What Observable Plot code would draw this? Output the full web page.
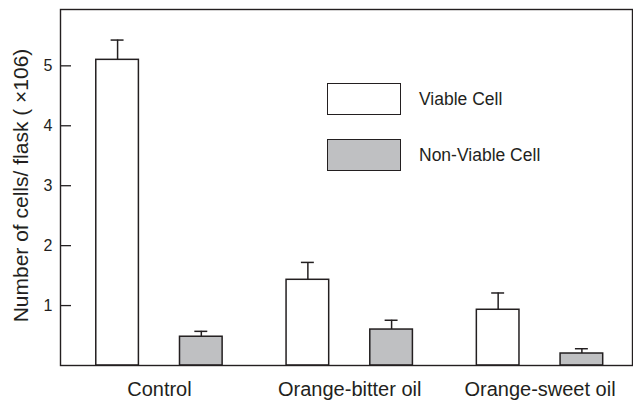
<!DOCTYPE html>
<html>
<head>
<meta charset="utf-8">
<script src="https://cdn.jsdelivr.net/npm/d3@7"></script>
<script src="https://cdn.jsdelivr.net/npm/@observablehq/plot@0.6"></script>
<style>
  body { margin: 0; background: #fff; }
  #wrap { position: relative; width: 633px; height: 400px; font-family: "Liberation Sans", Arial, sans-serif; color: #231f20; }
  .lg-box { position: absolute; width: 72px; height: 30px; border: 1.5px solid #231f20; }
  .lg-text { position: absolute; font-size: 17.5px; line-height: 20px; }
</style>
</head>
<body>
<div id="wrap"></div>
<script>
const categories = ["Control", "Orange-bitter oil", "Orange-sweet oil"];
const series = ["Viable Cell", "Non-Viable Cell"];
const viable = [5.1, 1.43, 0.93];
const viableErr = [0.33, 0.29, 0.28];
const nonViable = [0.48, 0.6, 0.2];
const nonViableErr = [0.09, 0.155, 0.08];
const yTicks = [1, 2, 3, 4, 5];
const yLabel = "Number of cells/ flask ( ×106)";

const colors = {"Viable Cell": "#ffffff", "Non-Viable Cell": "#bfc0c2"};
const offsets = {"Viable Cell": -0.22, "Non-Viable Cell": 0.22};
const halfW = 0.112, capW = 0.034;

const rows = [];
categories.forEach((c, i) => {
  rows.push({cat: c, gi: i, series: series[0], value: viable[i], err: viableErr[i]});
  rows.push({cat: c, gi: i, series: series[1], value: nonViable[i], err: nonViableErr[i]});
});
const cx = d => d.gi + offsets[d.series];

const ink = "#231f20";
const plot = Plot.plot({
  width: 633,
  height: 400,
  marginLeft: 60,
  marginRight: 1,
  marginTop: 9,
  marginBottom: 35,
  style: {fontFamily: '"Liberation Sans", Arial, sans-serif', color: ink, background: "#fff"},
  x: {type: "linear", domain: [-0.52, 2.486]},
  y: {domain: [0, 5.94]},
  marks: [
    Plot.ruleX(rows, {x: cx, y1: d => d.value, y2: d => d.value + d.err, stroke: ink, strokeWidth: 1.5}),
    Plot.ruleY(rows, {y: d => d.value + d.err, x1: d => cx(d) - capW, x2: d => cx(d) + capW, stroke: ink, strokeWidth: 1.5}),
    Plot.rectY(rows, {x1: d => cx(d) - halfW, x2: d => cx(d) + halfW, y1: 0, y2: d => d.value, fill: d => colors[d.series], stroke: ink, strokeWidth: 1.5}),
    Plot.axisY({ticks: yTicks, tickSize: 11, dx: 11, text: null, label: null, stroke: ink, strokeWidth: 1.3}),
    Plot.axisY({ticks: yTicks, tickFormat: d => String(d), tickSize: 0, tickPadding: 8, fontSize: 16, fill: ink, label: null}),
    Plot.text([yLabel], {frameAnchor: "left", rotate: -90, textAnchor: "middle", lineAnchor: "middle", dx: -39, dy: -2, fontSize: 21, fill: ink}),
    Plot.axisX({ticks: [0, 1, 2], tickFormat: i => categories[i], tickSize: 0, tickPadding: 16, fontSize: 20, fill: ink, label: null}),
    Plot.frame({stroke: ink, strokeWidth: 1.4})
  ]
});

const wrap = document.getElementById("wrap");
wrap.appendChild(plot);

const legendItems = [
  {name: series[0], top: 83},
  {name: series[1], top: 139}
];
legendItems.forEach(it => {
  const b = document.createElement("div");
  b.className = "lg-box";
  b.style.left = "327px";
  b.style.top = it.top + "px";
  b.style.background = colors[it.name];
  wrap.appendChild(b);
  const t = document.createElement("div");
  t.className = "lg-text";
  t.style.left = "419px";
  t.style.top = (it.top + 6) + "px";
  t.textContent = it.name;
  wrap.appendChild(t);
});
</script>
</body>
</html>
